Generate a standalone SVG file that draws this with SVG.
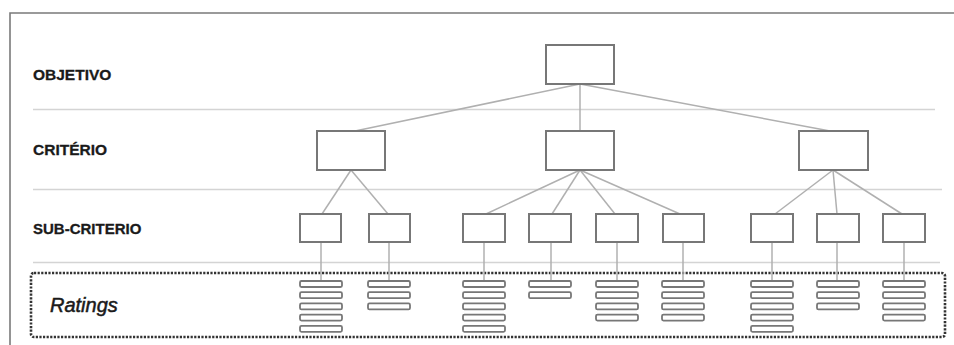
<svg xmlns="http://www.w3.org/2000/svg" width="954" height="345" viewBox="0 0 954 345">
<style>
.frame{fill:none;stroke:#7a7a7a;stroke-width:1.6}
.sep{stroke:#d4d4d4;stroke-width:1.5}
.box{fill:#fff;stroke:#777;stroke-width:2}
.bar{fill:#fff;stroke:#777;stroke-width:1.8}
.conn{stroke:#b0b0b0;stroke-width:1.5;fill:none}
.lbl{font-family:"Liberation Sans",Arial,sans-serif;font-weight:bold;font-size:15.5px;fill:#1a1a1a;stroke:#1a1a1a;stroke-width:0.3}
.rat{font-family:"Liberation Sans",Arial,sans-serif;font-style:italic;font-size:20px;fill:#1a1a1a;stroke:#1a1a1a;stroke-width:0.5}
.dot{fill:none;stroke:#333;stroke-width:2.6;stroke-dasharray:2.2 1.4}
</style>
<rect width="954" height="345" fill="#fff"/>
<path class="frame" d="M10,345 V13 H954"/>
<g id="separators">
<line class="sep" x1="33" y1="109.5" x2="935" y2="109.5"/>
<line class="sep" x1="33" y1="189.5" x2="942" y2="189.5"/>
<line class="sep" x1="33" y1="262.5" x2="940" y2="262.5"/>
</g>
<g id="labels">
<text class="lbl" x="33" y="80">OBJETIVO</text>
<text class="lbl" x="33" y="155">CRITÉRIO</text>
<text class="lbl" x="33" y="234" style="font-size:15px">SUB-CRITERIO</text>
</g>
<g id="ratings-frame">
<rect class="dot" x="31" y="273" width="914" height="64" rx="3"/>
<text class="rat" x="50" y="312">Ratings</text>
</g>
<g id="connectors">
<line class="conn" x1="580" y1="84" x2="355" y2="131"/>
<line class="conn" x1="580" y1="84" x2="580" y2="131"/>
<line class="conn" x1="580" y1="84" x2="830" y2="131"/>
<line class="conn" x1="351" y1="170" x2="322" y2="214"/>
<line class="conn" x1="351" y1="170" x2="388" y2="214"/>
<line class="conn" x1="580" y1="170" x2="486" y2="214"/>
<line class="conn" x1="580" y1="170" x2="552" y2="214"/>
<line class="conn" x1="580" y1="170" x2="615" y2="214"/>
<line class="conn" x1="580" y1="170" x2="680" y2="214"/>
<line class="conn" x1="833" y1="170" x2="775" y2="214"/>
<line class="conn" x1="833" y1="170" x2="837" y2="214"/>
<line class="conn" x1="833" y1="170" x2="902" y2="214"/>
<line class="conn" x1="321" y1="242" x2="321" y2="281"/>
<line class="conn" x1="389" y1="242" x2="389" y2="281"/>
<line class="conn" x1="484" y1="242" x2="484" y2="281"/>
<line class="conn" x1="551" y1="242" x2="551" y2="281"/>
<line class="conn" x1="617" y1="242" x2="617" y2="281"/>
<line class="conn" x1="683" y1="242" x2="683" y2="281"/>
<line class="conn" x1="772" y1="242" x2="772" y2="281"/>
<line class="conn" x1="837" y1="242" x2="837" y2="281"/>
<line class="conn" x1="904" y1="242" x2="904" y2="281"/>
</g>
<g id="objetivo"><rect class="box" x="546" y="45" width="68" height="39"/></g>
<g id="criterio-1"><rect class="box" x="317" y="131" width="68" height="39"/></g>
<g id="criterio-2"><rect class="box" x="546" y="131" width="68" height="39"/></g>
<g id="criterio-3"><rect class="box" x="799" y="131" width="69" height="39"/></g>
<g id="sub-1"><rect class="box" x="300" y="214" width="41" height="28"/></g>
<g id="sub-2"><rect class="box" x="369" y="214" width="41" height="28"/></g>
<g id="sub-3"><rect class="box" x="463" y="214" width="42" height="28"/></g>
<g id="sub-4"><rect class="box" x="529" y="214" width="42" height="28"/></g>
<g id="sub-5"><rect class="box" x="596" y="214" width="42" height="28"/></g>
<g id="sub-6"><rect class="box" x="663" y="214" width="41" height="28"/></g>
<g id="sub-7"><rect class="box" x="751" y="214" width="42" height="28"/></g>
<g id="sub-8"><rect class="box" x="817" y="214" width="42" height="28"/></g>
<g id="sub-9"><rect class="box" x="883" y="214" width="42" height="28"/></g>
<g id="ratings-1">
<rect class="bar" x="300" y="281" width="42" height="6" rx="1.5"/>
<rect class="bar" x="300" y="292.2" width="42" height="6" rx="1.5"/>
<rect class="bar" x="300" y="303.4" width="42" height="6" rx="1.5"/>
<rect class="bar" x="300" y="314.6" width="42" height="6" rx="1.5"/>
<rect class="bar" x="300" y="325.8" width="42" height="6" rx="1.5"/>
</g>
<g id="ratings-2">
<rect class="bar" x="368" y="281" width="42" height="6" rx="1.5"/>
<rect class="bar" x="368" y="292.2" width="42" height="6" rx="1.5"/>
<rect class="bar" x="368" y="303.4" width="42" height="6" rx="1.5"/>
</g>
<g id="ratings-3">
<rect class="bar" x="463" y="281" width="42" height="6" rx="1.5"/>
<rect class="bar" x="463" y="292.2" width="42" height="6" rx="1.5"/>
<rect class="bar" x="463" y="303.4" width="42" height="6" rx="1.5"/>
<rect class="bar" x="463" y="314.6" width="42" height="6" rx="1.5"/>
<rect class="bar" x="463" y="325.8" width="42" height="6" rx="1.5"/>
</g>
<g id="ratings-4">
<rect class="bar" x="529" y="281" width="42" height="6" rx="1.5"/>
<rect class="bar" x="529" y="292.2" width="42" height="6" rx="1.5"/>
</g>
<g id="ratings-5">
<rect class="bar" x="596" y="281" width="42" height="6" rx="1.5"/>
<rect class="bar" x="596" y="292.2" width="42" height="6" rx="1.5"/>
<rect class="bar" x="596" y="303.4" width="42" height="6" rx="1.5"/>
<rect class="bar" x="596" y="314.6" width="42" height="6" rx="1.5"/>
</g>
<g id="ratings-6">
<rect class="bar" x="662" y="281" width="42" height="6" rx="1.5"/>
<rect class="bar" x="662" y="292.2" width="42" height="6" rx="1.5"/>
<rect class="bar" x="662" y="303.4" width="42" height="6" rx="1.5"/>
<rect class="bar" x="662" y="314.6" width="42" height="6" rx="1.5"/>
</g>
<g id="ratings-7">
<rect class="bar" x="751" y="281" width="42" height="6" rx="1.5"/>
<rect class="bar" x="751" y="292.2" width="42" height="6" rx="1.5"/>
<rect class="bar" x="751" y="303.4" width="42" height="6" rx="1.5"/>
<rect class="bar" x="751" y="314.6" width="42" height="6" rx="1.5"/>
<rect class="bar" x="751" y="325.8" width="42" height="6" rx="1.5"/>
</g>
<g id="ratings-8">
<rect class="bar" x="817" y="281" width="42" height="6" rx="1.5"/>
<rect class="bar" x="817" y="292.2" width="42" height="6" rx="1.5"/>
<rect class="bar" x="817" y="303.4" width="42" height="6" rx="1.5"/>
</g>
<g id="ratings-9">
<rect class="bar" x="883" y="281" width="42" height="6" rx="1.5"/>
<rect class="bar" x="883" y="292.2" width="42" height="6" rx="1.5"/>
<rect class="bar" x="883" y="303.4" width="42" height="6" rx="1.5"/>
<rect class="bar" x="883" y="314.6" width="42" height="6" rx="1.5"/>
</g>
</svg>
